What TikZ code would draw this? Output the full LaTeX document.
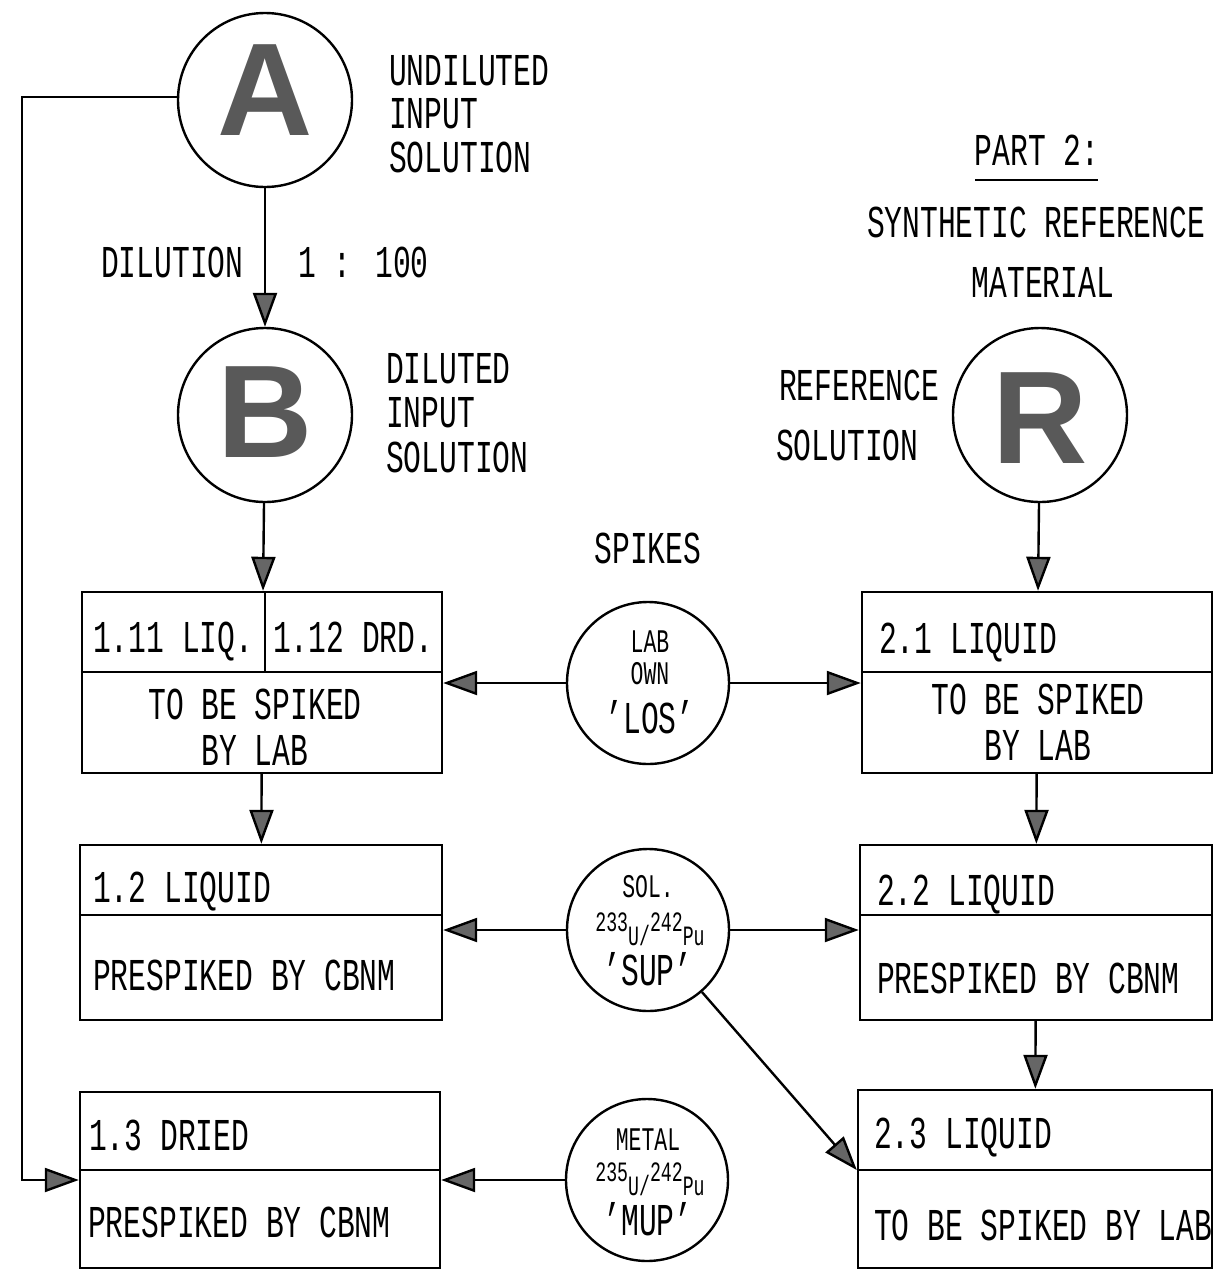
\documentclass[tikz,border=0pt]{standalone}
\usepackage{fontspec}
\setmainfont{Liberation Mono}[FakeStretch=0.65]
\newfontfamily\bigsans{Liberation Sans}
\usetikzlibrary{arrows.meta}
\begin{document}
\begin{tikzpicture}[x=0.5pt,y=-0.5pt,line width=1.2pt,
  lbl/.style={inner sep=0,font=\fontsize{22.8}{26}\selectfont},
  lft/.style={lbl,anchor=base west},
  ctr/.style={lbl,anchor=base},
  sml/.style={inner sep=0,anchor=base,font=\fontsize{16.5}{18}\selectfont},
  bigcirc/.style={draw,circle,minimum size=87pt,inner sep=0},
  spkcirc/.style={draw,circle,minimum size=81pt,inner sep=0},
  bigletter/.style={inner sep=0,text=black!65,font=\bigsans\bfseries\fontsize{66}{66}\selectfont},
  boxst/.style={draw,rectangle,inner sep=0},
  arr/.style={-{Triangle[length=17pt,width=12pt,fill=black!60]}}]
\useasboundingbox (0,0) rectangle (1214,1270);

% circles A, B, R
\node[bigcirc] (A) at (265,100) {};
\node[bigletter] (Al) at (265,90) {A};
\node[bigcirc] (B) at (265,415) {};
\node[bigletter] (Bl) at (265,412) {B};
\node[bigcirc] (R) at (1040,415) {};
\node[bigletter] (Rl) at (1040,418) {R};

% texts near circles
\node[lft] (t1) at (388,85) {UNDILUTED};
\node[lft] (t2) at (388,128) {INPUT};
\node[lft] (t3) at (388,172) {SOLUTION};
\node[lft] (t4) at (100,277) {DILUTION};
\node[lft] (t5) at (297,277) {1 : 100};
\node[lft] (t6) at (385,383) {DILUTED};
\node[lft] (t7) at (385,427) {INPUT};
\node[lft] (t8) at (385,472) {SOLUTION};
\node[ctr] (p2) at (1037,165) {PART 2:};
\draw (975,180) -- (1098,180);
\node[ctr] (syn) at (1036,237) {SYNTHETIC REFERENCE};
\node[ctr] (mat) at (1043,297) {MATERIAL};
\node[lft] (rs1) at (778,400) {REFERENCE};
\node[lft] (rs2) at (775,460) {SOLUTION};
\node[ctr] (spk) at (648,563) {SPIKES};

% left boxes
\node[boxst,minimum width=180pt,minimum height=90.5pt] (b11) at (262,682.5) {};
\draw (b11.west |- 0,672) -- (b11.east |- 0,672);
\draw (265,592) -- (265,672);
\node[lft] at (92,652) {1.11 LIQ.};
\node[lft] at (272,652) {1.12 DRD.};
\node[ctr] at (255,719) {TO BE SPIKED};
\node[ctr] at (255,765) {BY LAB};

\node[boxst,minimum width=181pt,minimum height=87.5pt] (b12) at (261,932.5) {};
\draw (b12.west |- 0,915) -- (b12.east |- 0,915);
\node[lft] at (92,902) {1.2 LIQUID};
\node[lft] at (92,990) {PRESPIKED BY CBNM};

\node[boxst,minimum width=180pt,minimum height=88pt] (b13) at (260,1180) {};
\draw (b13.west |- 0,1170) -- (b13.east |- 0,1170);
\node[lft] at (88,1150) {1.3 DRIED};
\node[lft] at (87,1237) {PRESPIKED BY CBNM};

% right boxes
\node[boxst,minimum width=175pt,minimum height=90.5pt] (b21) at (1037,682.5) {};
\draw (b21.west |- 0,672) -- (b21.east |- 0,672);
\node[lft] at (878,653) {2.1 LIQUID};
\node[ctr] at (1038,714) {TO BE SPIKED};
\node[ctr] at (1038,760) {BY LAB};

\node[boxst,minimum width=176pt,minimum height=87.5pt] (b22) at (1036,932.5) {};
\draw (b22.west |- 0,915) -- (b22.east |- 0,915);
\node[lft] at (876,905) {2.2 LIQUID};
\node[lft] at (876,993) {PRESPIKED BY CBNM};

\node[boxst,minimum width=177pt,minimum height=89pt] (b23) at (1035,1179) {};
\draw (b23.west |- 0,1170) -- (b23.east |- 0,1170);
\node[lft] at (873,1148) {2.3 LIQUID};
\node[lft] at (873,1240) {TO BE SPIKED BY LAB};

% spike circles
\node[spkcirc] (los) at (648,683) {};
\node[sml] at (650,652) {LAB};
\node[sml] at (650,684) {OWN};
\node[ctr] at (650,733) {'LOS'};

\node[spkcirc] (sup) at (648,930) {};
\node[sml] at (648,897) {SOL.};
\node[inner sep=0,anchor=base,font=\fontsize{14}{16}\selectfont] at (650,945)
  {\raisebox{7pt}{233}U/\raisebox{7pt}{242}Pu};
\node[ctr] at (648,985) {'SUP'};

\node[spkcirc] (mup) at (647,1180) {};
\node[sml] at (648,1150) {METAL};
\node[inner sep=0,anchor=base,font=\fontsize{14}{16}\selectfont] at (650,1195)
  {\raisebox{7pt}{235}U/\raisebox{7pt}{242}Pu};
\node[ctr] at (648,1235) {'MUP'};

% connectors
\draw[arr] (A) -- (B);
\draw[arr] (B) -- (b11);
\draw[arr] (b11) -- (b12);
\draw[arr] (R) -- (b21);
\draw[arr] (b21) -- (b22);
\draw[arr] (b22) -- (b23);
\coordinate (c1) at (22,97);
\coordinate (c2) at (22,1180);
\draw[arr] (A.west |- 0,97) -- (c1) -- (c2) -- (b13.west |- c2);
\draw[arr] (los) -- (b11.east |- los);
\draw[arr] (los) -- (b21.west |- los);
\draw[arr] (sup) -- (b12.east |- sup);
\draw[arr] (sup) -- (b22.west |- sup);
\draw[arr] (sup) -- (b23.west |- 0,1170);
\draw[arr] (mup) -- (b13.east |- mup);
\end{tikzpicture}
\end{document}
